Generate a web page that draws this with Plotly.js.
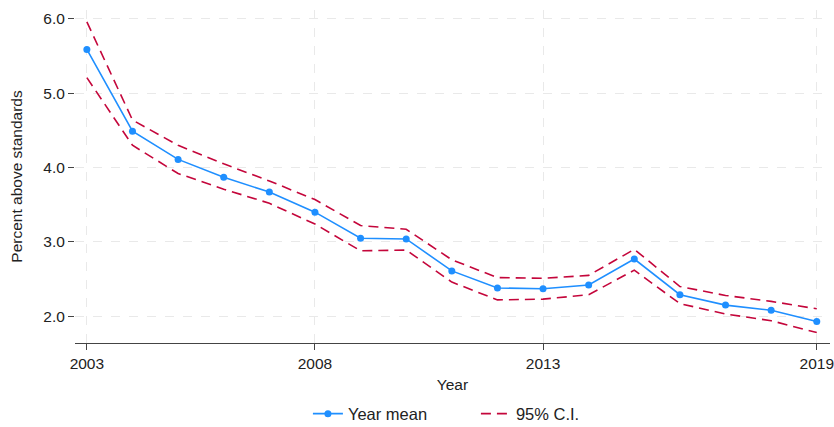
<!DOCTYPE html>
<html>
<head>
<meta charset="utf-8">
<script src="https://cdn.plot.ly/plotly-3.0.1.min.js"></script>
<style>html,body{margin:0;padding:0;background:#fff;}#chart{width:834px;height:427px;}</style>
</head>
<body>
<div id="chart"></div>
<script>
const years = [2003,2004,2005,2006,2007,2008,2009,2010,2011,2012,2013,2014,2015,2016,2017,2018,2019];
const yearMean = [5.59,4.49,4.11,3.87,3.67,3.40,3.05,3.04,2.61,2.38,2.37,2.42,2.77,2.29,2.15,2.08,1.93];
const ciUpper = [5.96,4.64,4.30,4.05,3.82,3.57,3.22,3.17,2.76,2.52,2.51,2.55,2.90,2.40,2.28,2.20,2.10];
const ciLower = [5.21,4.30,3.92,3.71,3.52,3.24,2.88,2.89,2.46,2.22,2.23,2.29,2.62,2.17,2.03,1.94,1.78];
const xTicks = [2003,2008,2013,2019];
const yTicks = [2,3,4,5,6];
const yTickText = ["2.0","3.0","4.0","5.0","6.0"];

const blue = '#1f8fff';
const red = '#c4063b';
const dash = '10px,6px';

const traces = [
  {x: years, y: yearMean, name: 'Year mean', mode: 'lines+markers', type: 'scatter',
   line: {color: blue, width: 1.6}, marker: {color: blue, size: 7}},
  {x: years, y: ciUpper, name: '95% C.I.', mode: 'lines', type: 'scatter', legendgroup: 'ci',
   line: {color: red, width: 1.6, dash: dash}},
  {x: years, y: ciLower, name: '95% C.I.', mode: 'lines', type: 'scatter', legendgroup: 'ci', showlegend: false,
   line: {color: red, width: 1.6, dash: dash}}
];

const layout = {
  width: 834, height: 427,
  margin: {l: 75, r: 4, t: 10, b: 84, autoexpand: false},
  paper_bgcolor: '#fff', plot_bgcolor: '#fff',
  font: {family: 'Liberation Sans, Arial, sans-serif', size: 15.5, color: '#222'},
  showlegend: true,
  legend: {orientation: 'h', x: 0.3085, xanchor: 'left', y: -0.213, yanchor: 'middle',
           font: {size: 16.5}, traceorder: 'normal', entrywidth: 123, entrywidthmode: 'pixels'},
  xaxis: {range: [2002.74, 2019.29], tickvals: xTicks, ticktext: xTicks.map(String),
          ticks: 'outside', ticklen: 6, tickcolor: '#444', showline: true, linecolor: '#444', linewidth: 1.2,
          ticklabeloverflow: 'allow',
          showgrid: true, gridcolor: '#e9e9e9', griddash: 'dash', gridwidth: 1, zeroline: false,
          title: {text: 'Year', standoff: 8, font: {size: 15.5}}},
  yaxis: {range: [1.64, 6.12], tickvals: yTicks, ticktext: yTickText,
          ticks: 'outside', ticklen: 6, tickcolor: '#444', showline: false,
          showgrid: true, gridcolor: '#e9e9e9', griddash: 'dash', gridwidth: 1, zeroline: false,
          title: {text: 'Percent above standards', standoff: 16, font: {size: 15.5}}}
};

Plotly.newPlot('chart', traces, layout, {displayModeBar: false, staticPlot: true});
</script>
</body>
</html>
